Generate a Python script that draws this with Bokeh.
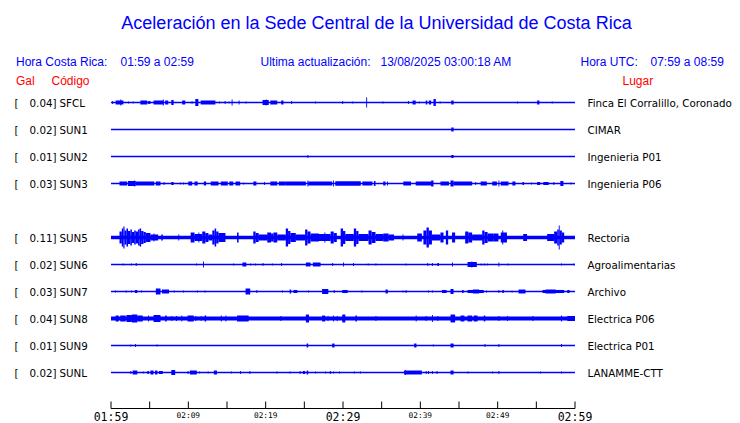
from bokeh.plotting import figure
from bokeh.models import Range1d
from bokeh.core.properties import value
from bokeh.embed import file_html
from bokeh.resources import INLINE

# ---------------- data ----------------
title = "Aceleración en la Sede Central de la Universidad de Costa Rica"
hora_cr = "01:59 a 02:59"
hora_utc = "07:59 a 08:59"
actualizacion = "13/08/2025 03:00:18 AM"

codes = ["SFCL", "SUN1", "SUN2", "SUN3", "SUN5", "SUN6", "SUN7", "SUN8", "SUN9", "SUNL"]
slots = [0, 1, 2, 3, 5, 6, 7, 8, 9, 10]
gal_max = [0.04, 0.02, 0.01, 0.03, 0.11, 0.02, 0.03, 0.04, 0.01, 0.02]
places = ["Finca El Corralillo, Coronado", "CIMAR", "Ingenieria P01", "Ingenieria P06",
          "Rectoria", "Agroalimentarias", "Archivo", "Electrica P06", "Electrica P01",
          "LANAMME-CTT"]
noise_gal = [0.0, 0.0, 0.0, 0.0, 0.017, 0.0, 0.0, 0.018, 0.0, 0.0]

tick_minutes = [0, 5, 10, 15, 20, 25, 30, 35, 40, 45, 50, 55, 60]
big_label_minutes = [0, 30, 60]
big_label_texts = ["01:59", "02:29", "02:59"]
small_label_minutes = [10, 20, 40, 50]
small_label_texts = ["02:09", "02:19", "02:39", "02:49"]

# events: (start minute, end minute, half amplitude in Gal)
ev_SFCL = [(0.15, 0.15, .014), (0.6, 1.6, .018), (1.2, 1.2, .027), (2.2, 2.2, .009), (2.8, 2.8, .009),
           (3.8, 4.7, .018), (4.8, 5.1, .014), (5.5, 6.8, .018), (6.7, 6.7, .027), (7.0, 7.4, .018),
           (7.8, 8.1, .023), (9.2, 9.6, .018), (10.3, 10.3, .009), (10.5, 10.5, .009), (10.9, 11.3, .032),
           (11.6, 13.5, .018), (14.0, 14.0, .009), (14.7, 14.7, .014), (15.2, 15.2, .009), (15.6, 15.6, .027),
           (16.5, 16.5, .018), (17.4, 17.4, .009), (19.6, 20.4, .023), (20.0, 20.0, .027), (20.6, 21.5, .018),
           (22.0, 22.3, .018), (23.3, 23.3, .014), (26.4, 26.4, .009), (29.9, 29.9, .014), (31.2, 31.2, .009),
           (33.0, 33.0, .045), (35.1, 35.1, .009), (38.4, 38.4, .014), (39.0, 39.4, .018), (39.8, 39.8, .009),
           (40.7, 40.9, .018), (41.1, 41.4, .018), (41.7, 42.0, .032), (42.5, 42.5, .009), (44.0, 44.3, .018),
           (52.5, 52.5, .009), (55.1, 55.4, .018), (57.0, 57.0, .009)]
ev_SUN1 = [(44.0, 44.3, .018)]
ev_SUN2 = [(25.4, 25.4, .014), (44.0, 44.3, .014)]
ev_SUN3 = [(1.1, 2.1, .018), (2.2, 3.2, .023), (3.0, 3.0, .027), (3.2, 5.6, .018), (5.8, 6.4, .018),
           (6.8, 6.8, .014), (7.8, 8.1, .014), (8.9, 8.9, .009), (9.3, 9.3, .009), (10.0, 10.5, .018),
           (10.8, 11.2, .018), (12.0, 12.3, .018), (12.9, 13.9, .018), (14.2, 15.1, .018), (15.3, 15.8, .018),
           (16.1, 16.7, .018), (17.1, 17.1, .009), (18.4, 18.8, .018), (19.8, 19.8, .014), (20.6, 21.5, .018),
           (21.7, 22.6, .018), (22.6, 25.2, .018), (25.4, 25.4, .027), (25.5, 28.6, .018), (28.7, 28.7, .027),
           (29.0, 32.3, .020), (32.5, 33.8, .018), (34.0, 34.2, .023), (35.2, 35.5, .018), (35.7, 35.7, .018),
           (37.8, 38.8, .018), (39.4, 41.5, .018), (41.4, 41.7, .027), (42.6, 43.7, .018), (43.9, 44.3, .027),
           (44.3, 46.7, .018), (47.1, 47.1, .014), (47.8, 48.6, .018), (49.3, 49.9, .018), (50.1, 50.1, .027),
           (50.4, 51.4, .018), (51.9, 52.3, .018), (53.2, 53.4, .014), (54.3, 54.3, .009), (55.1, 55.5, .014),
           (55.9, 56.6, .014), (57.2, 57.2, .014), (58.1, 58.5, .023), (59.4, 59.4, .009)]
ev_SUN5 = [(1.1, 1.4, .055), (1.4, 1.6, .082), (1.6, 1.75, .100), (1.75, 2.0, .064), (2.0, 2.2, .082),
           (2.2, 2.5, .060), (2.5, 2.7, .073), (2.7, 3.0, .050), (3.0, 3.2, .064), (3.2, 3.5, .055),
           (3.5, 3.7, .073), (3.7, 3.9, .082), (3.9, 4.2, .060), (4.2, 4.5, .050), (4.5, 5.1, .040),
           (5.1, 6.1, .027), (5.5, 5.5, .036), (6.5, 6.7, .027), (8.7, 8.7, .027), (10.3, 10.8, .045),
           (10.8, 11.8, .032), (11.3, 11.3, .045), (11.8, 12.2, .055), (12.2, 12.6, .040), (12.6, 13.1, .027),
           (13.1, 13.4, .064), (13.4, 13.6, .082), (13.6, 13.9, .055), (13.9, 14.8, .040), (16.3, 16.5, .045),
           (18.4, 18.7, .055), (18.7, 19.1, .040), (19.1, 20.2, .027), (20.2, 20.7, .045), (20.7, 21.0, .036),
           (21.0, 21.5, .045), (21.5, 22.6, .027), (22.6, 22.9, .082), (22.9, 23.2, .060), (23.2, 23.9, .040),
           (23.9, 25.1, .027), (25.1, 25.4, .073), (25.4, 25.8, .055), (25.8, 26.9, .036), (26.9, 28.4, .032),
           (27.6, 27.6, .045), (28.4, 28.8, .055), (28.8, 29.2, .040), (29.7, 30.0, .082), (30.0, 30.3, .060),
           (30.3, 31.4, .032), (31.4, 31.7, .082), (31.7, 32.0, .060), (32.0, 33.3, .032), (33.3, 33.7, .064),
           (33.7, 34.2, .050), (34.2, 35.2, .032), (35.2, 35.9, .036), (35.9, 36.6, .027), (37.7, 37.7, .027),
           (39.6, 40.2, .036), (40.4, 40.8, .064), (40.8, 41.1, .090), (41.1, 41.5, .064), (41.5, 42.6, .027),
           (42.6, 43.0, .045), (43.3, 43.6, .064), (44.1, 44.5, .045), (45.8, 46.2, .055), (46.2, 46.7, .045),
           (46.7, 48.0, .027), (48.0, 48.3, .064), (48.3, 48.7, .050), (48.7, 49.5, .036), (49.5, 50.1, .036),
           (50.4, 51.2, .045), (50.6, 50.6, .064), (53.3, 53.8, .032), (56.4, 57.3, .032), (57.3, 57.7, .055),
           (57.7, 57.9, .073), (57.9, 58.0, .109), (58.0, 58.3, .064), (58.3, 58.6, .045)]
ev_SUN6 = [(1.5, 1.5, .009), (2.6, 2.6, .009), (3.2, 3.2, .014), (11.0, 11.0, .009), (11.9, 11.9, .027),
           (15.8, 15.8, .009), (17.0, 17.5, .018), (18.0, 18.0, .009), (18.6, 18.6, .009), (19.6, 19.6, .014),
           (20.8, 20.8, .009), (22.0, 22.0, .014), (25.2, 25.8, .018), (26.1, 27.1, .018), (28.6, 28.6, .014),
           (30.0, 30.0, .018), (31.3, 31.3, .014), (33.2, 33.2, .009), (34.2, 34.2, .009), (38.1, 38.1, .009),
           (40.9, 40.9, .014), (41.5, 41.5, .014), (42.2, 42.4, .014), (44.1, 44.1, .018), (46.1, 47.3, .023),
           (46.6, 46.6, .027), (47.8, 47.8, .009), (48.2, 48.2, .009), (48.6, 48.6, .009), (50.1, 50.1, .018),
           (51.3, 51.3, .009), (58.2, 58.2, .009), (59.8, 59.8, .009)]
ev_SUN7 = [(0.5, 0.5, .009), (1.9, 1.9, .009), (2.6, 2.6, .009), (3.1, 3.4, .014), (3.9, 3.9, .009),
           (5.8, 6.4, .027), (6.6, 7.5, .018), (8.1, 8.1, .009), (9.3, 9.3, .009), (11.1, 11.1, .009),
           (12.1, 12.1, .009), (17.4, 18.0, .027), (18.8, 18.8, .014), (22.1, 22.1, .009), (23.1, 23.3, .018),
           (23.6, 24.1, .014), (25.5, 25.5, .009), (27.3, 28.1, .023), (28.8, 28.8, .014), (29.9, 30.6, .014),
           (32.4, 32.4, .009), (35.5, 35.8, .018), (37.7, 37.7, .009), (38.1, 38.1, .014), (41.0, 41.0, .009),
           (41.5, 41.5, .009), (42.8, 43.4, .014), (43.9, 44.3, .023), (45.4, 45.6, .014), (46.1, 48.2, .014),
           (46.8, 47.6, .018), (48.5, 48.5, .009), (50.1, 50.1, .014), (50.6, 50.8, .014), (51.8, 51.8, .009),
           (52.7, 53.6, .018), (55.8, 58.6, .014), (56.2, 57.5, .018), (59.0, 59.3, .014)]
ev_SUN8 = [(0.6, 1.0, .027), (1.2, 1.9, .027), (2.0, 2.7, .032), (2.7, 3.4, .036), (3.4, 4.1, .027),
           (4.8, 4.8, .027), (5.5, 6.4, .032), (7.0, 7.2, .027), (7.8, 7.8, .023), (8.4, 8.4, .023),
           (9.1, 9.1, .027), (9.9, 10.7, .027), (10.9, 10.9, .023), (11.6, 11.6, .023), (12.1, 12.3, .027),
           (14.2, 14.2, .027), (14.8, 14.8, .027), (16.3, 17.8, .027), (21.9, 21.9, .023), (25.2, 25.6, .036),
           (27.3, 27.7, .027), (28.0, 28.0, .023), (28.7, 28.7, .027), (29.2, 29.2, .023), (29.9, 30.3, .036),
           (31.6, 31.8, .027), (34.2, 34.2, .023), (39.4, 39.4, .027), (40.7, 40.7, .023), (41.5, 41.5, .032),
           (42.2, 42.2, .023), (43.9, 44.5, .036), (45.2, 45.7, .027), (46.1, 46.7, .027), (46.9, 47.4, .027),
           (48.2, 48.4, .027), (50.1, 50.1, .023), (51.2, 51.2, .023), (54.5, 54.5, .023), (58.2, 58.2, .027),
           (59.0, 60.0, .023)]
ev_SUN9 = [(2.5, 2.5, .009), (3.1, 3.1, .014), (5.9, 5.9, .009), (25.3, 25.5, .018), (28.6, 28.9, .018),
           (39.2, 39.5, .018), (41.6, 41.6, .009), (43.9, 44.3, .018), (48.3, 48.3, .014), (50.1, 50.1, .014),
           (58.2, 58.2, .014)]
ev_SUNL = [(2.5, 2.5, .014), (2.8, 3.4, .018), (4.1, 4.1, .009), (4.7, 4.9, .014), (5.1, 5.5, .018),
           (5.7, 6.0, .018), (6.2, 6.7, .014), (7.8, 8.3, .023), (9.9, 9.9, .014), (10.2, 11.1, .018),
           (11.4, 11.4, .009), (12.5, 12.5, .009), (13.3, 13.7, .018), (15.5, 15.5, .009), (16.7, 16.7, .014),
           (17.9, 17.9, .014), (21.4, 21.4, .009), (23.1, 23.1, .009), (24.4, 24.4, .014), (24.8, 25.1, .014),
           (25.3, 25.5, .018), (26.4, 26.4, .009), (27.7, 27.7, .009), (28.3, 28.3, .014), (28.7, 28.7, .009),
           (29.5, 29.5, .009), (31.4, 31.4, .009), (32.2, 32.2, .009), (37.9, 40.2, .018), (38.0, 38.0, .023),
           (40.7, 40.7, .014), (41.0, 41.0, .014), (41.5, 41.5, .014), (42.1, 42.1, .014), (43.9, 44.3, .018),
           (46.1, 46.1, .009), (49.3, 49.3, .009), (50.1, 50.1, .014), (55.5, 55.5, .009), (58.2, 58.2, .009)]

events = [ev_SFCL, ev_SUN1, ev_SUN2, ev_SUN3, ev_SUN5, ev_SUN6, ev_SUN7, ev_SUN8, ev_SUN9, ev_SUNL]

# ---------------- layout helpers ----------------
W, H = 740, 423
PX_PER_MIN = 464.0 / 60.0
X0_PX = 110.5          # screen x of minute 0
ROW0_PX = 102.0        # screen y of first row
ROW_PX = 27.0
GAIN = 110.0 / ROW_PX  # row units per Gal
MINW = 0.12            # minimum drawn width (minutes)


def px2x(px):
    return (px - X0_PX) / PX_PER_MIN


def px2y(py):
    return -(py - ROW0_PX) / ROW_PX


p = figure(width=W, height=H, x_range=Range1d(px2x(0), px2x(W)), y_range=Range1d(px2y(H), px2y(0)),
           output_backend="svg", toolbar_location=None, x_axis_location=None, y_axis_location=None,
           min_border=0, min_border_left=0, min_border_right=0, min_border_top=0, min_border_bottom=0)
p.grid.visible = False
p.outline_line_color = None
p.background_fill_color = "white"
p.border_fill_color = "white"

BLUE = "#0000FF"
RED = "#FF0000"

# traces
rows_y = [-s for s in slots]
p.segment(x0=[0] * len(rows_y), x1=[60] * len(rows_y), y0=rows_y, y1=rows_y,
          line_color=BLUE, line_width=1.3)

nl, nr, nt, nb = [], [], [], []
for y, ng in zip(rows_y, noise_gal):
    if ng > 0:
        nl.append(0); nr.append(60); nt.append(y + ng * GAIN); nb.append(y - ng * GAIN)
p.quad(left=nl, right=nr, top=nt, bottom=nb, fill_color=BLUE, line_color=None)

L, R, T, B = [], [], [], []
for y, evs in zip(rows_y, events):
    for t0, t1, a in evs:
        L.append(t0)
        R.append(max(t1, t0 + MINW))
        T.append(y + a * GAIN)
        B.append(y - a * GAIN)
p.quad(left=L, right=R, top=T, bottom=B, fill_color=BLUE, line_color=None)

# row labels
lab_font = value("DejaVu Sans")
n = len(rows_y)
p.text(x=[px2x(14)] * n, y=rows_y, text=["["] * n, text_font=lab_font,
       text_font_size="10.3px", text_color="black", text_align="left", text_baseline="middle")
p.text(x=[px2x(56)] * n, y=rows_y, text=[f"{g:.2f}]" for g in gal_max], text_font=lab_font,
       text_font_size="10.3px", text_color="black", text_align="right", text_baseline="middle")
p.text(x=[px2x(59)] * n, y=rows_y, text=codes, text_font=lab_font,
       text_font_size="10.3px", text_color="black", text_align="left", text_baseline="middle")
p.text(x=[px2x(587)] * n, y=rows_y, text=places, text_font=lab_font,
       text_font_size="10.3px", text_color="black", text_align="left", text_baseline="middle")

# title and headers
hf = value("Liberation Sans")
p.text(x=[px2x(376)], y=[px2y(22)], text=[title], text_font=hf, text_font_size="18px",
       text_color=BLUE, text_align="center", text_baseline="middle")
hx = [15.5, 120, 260, 380, 580, 650]
ht = ["Hora Costa Rica:", hora_cr, "Ultima actualización:", actualizacion, "Hora UTC:", hora_utc]
p.text(x=[px2x(v) for v in hx], y=[px2y(61)] * len(hx), text=ht, text_font=hf, text_font_size="12px",
       text_color=BLUE, text_align="left", text_baseline="middle")
rx = [15.5, 51, 622]
rt = ["Gal", "Código", "Lugar"]
p.text(x=[px2x(v) for v in rx], y=[px2y(80)] * len(rx), text=rt, text_font=hf, text_font_size="12px",
       text_color=RED, text_align="left", text_baseline="middle")

# time axis (line, inward ticks, labels) drawn through the scales
AXIS_Y = px2y(408)
TICK_TOP = px2y(401)
p.segment(x0=[0], x1=[60], y0=[AXIS_Y], y1=[AXIS_Y], line_color="black", line_width=1)
p.segment(x0=tick_minutes, x1=tick_minutes, y0=[AXIS_Y] * len(tick_minutes),
          y1=[TICK_TOP] * len(tick_minutes), line_color="black", line_width=1)
mono = value("DejaVu Sans Mono")
p.text(x=big_label_minutes, y=[px2y(416.5)] * len(big_label_minutes), text=big_label_texts,
       text_font=mono, text_font_size="11.5px", text_color="black", text_align="center",
       text_baseline="middle")
p.text(x=small_label_minutes, y=[px2y(415)] * len(small_label_minutes), text=small_label_texts,
       text_font=mono, text_font_size="7.8px", text_color="black", text_align="center",
       text_baseline="middle")

open("out.html", "w").write(file_html(p, INLINE))
